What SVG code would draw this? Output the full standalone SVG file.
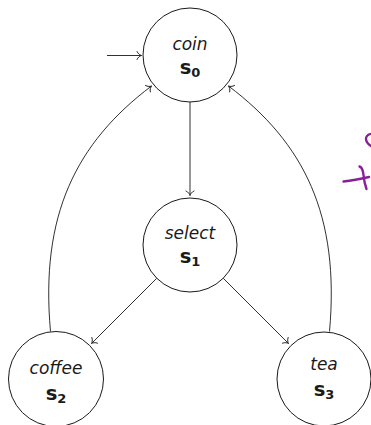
<svg xmlns="http://www.w3.org/2000/svg" width="371" height="425" viewBox="0 0 371 425">
<defs>
<marker id="to" markerUnits="userSpaceOnUse" markerWidth="12" markerHeight="12" viewBox="-6 -6 12 12" refX="0" refY="0" orient="auto" overflow="visible">
<path d="M-4.5,-4 C-3.5,-1.5 -1.2,-0.4 0,0 C-1.2,0.4 -3.5,1.5 -4.5,4" fill="none" stroke="#1a1a1a" stroke-width="0.9" stroke-linecap="round"/>
</marker>
<style>
.st{fill:#fff;stroke:#1a1a1a;stroke-width:1}
.lbl{font-family:"DejaVu Sans",sans-serif;font-style:italic;font-size:17px;fill:#1a1a1a;text-anchor:middle}
.sid{font-family:"DejaVu Sans",sans-serif;font-weight:bold;font-size:19.5px;fill:#1a1a1a;text-anchor:middle}
.sub{font-size:13px}
.edge{fill:none;stroke:#1a1a1a;stroke-width:0.9;marker-end:url(#to)}
.ink{fill:none;stroke:#8a1f9a;stroke-width:2.4;stroke-linecap:round;stroke-linejoin:round}
</style>
</defs>
<g id="connectors">
<line class="edge" x1="107" y1="55.5" x2="141.5" y2="55.5"/>
<line class="edge" x1="190" y1="102" x2="190" y2="195.5"/>
<line class="edge" x1="156.8" y1="278.2" x2="91.5" y2="343.5"/>
<line class="edge" x1="223.2" y1="278.2" x2="288.5" y2="343.5"/>
<path class="edge" d="M50.5,331.5 C40,215 76,143 151.5,86"/>
<path class="edge" d="M329.5,331.5 C340,215 304,143 228.5,86"/>
</g>
<g id="s0">
<circle class="st" cx="190" cy="55" r="47"/>
<text class="lbl" x="190" y="49.5">coin</text>
<text class="sid" x="190" y="74">s<tspan class="sub" dy="3">0</tspan></text>
</g>
<g id="s1">
<circle class="st" cx="190" cy="245" r="47"/>
<text class="lbl" x="190" y="238.5">select</text>
<text class="sid" x="190" y="262.5">s<tspan class="sub" dy="3">1</tspan></text>
</g>
<g id="s2">
<circle class="st" cx="56" cy="379" r="47.5"/>
<text class="lbl" x="56" y="373.5">coffee</text>
<text class="sid" x="56" y="399.5">s<tspan class="sub" dy="3">2</tspan></text>
</g>
<g id="s3">
<circle class="st" cx="324" cy="379" r="47"/>
<text class="lbl" x="324" y="370">tea</text>
<text class="sid" x="324" y="396">s<tspan class="sub" dy="3">3</tspan></text>
</g>
<g id="annotation">
<path class="ink" d="M370,134 C365,136 364,141 371,146"/>
<path class="ink" d="M343.5,181.5 C352,180.5 360,179 369,177"/>
<path class="ink" d="M359.5,166.5 C361,167 363,170 363.5,175 C364,180 365,185 366.5,189"/>
</g>
</svg>
